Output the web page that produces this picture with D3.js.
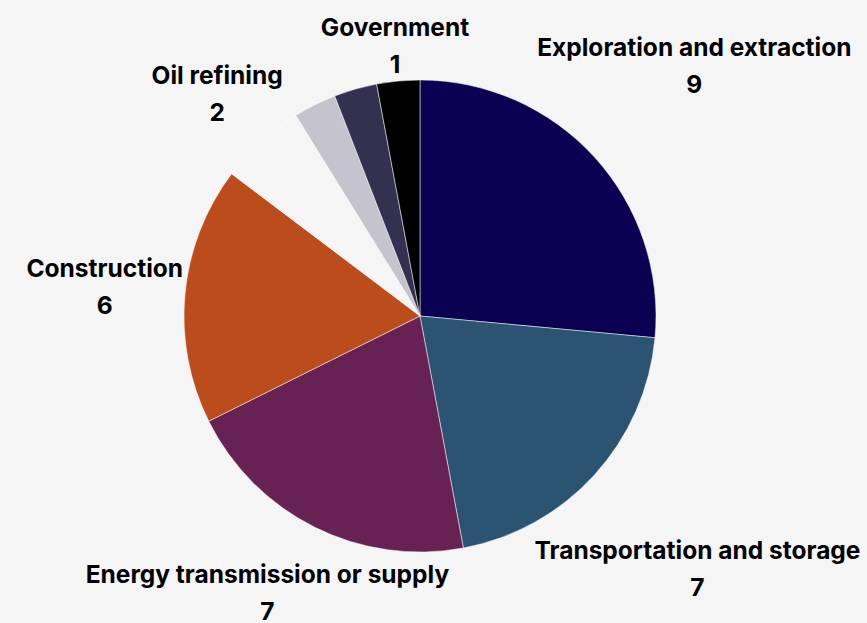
<!DOCTYPE html>
<html>
<head>
<meta charset="utf-8">
<script src="https://cdn.jsdelivr.net/npm/d3@7"></script>
<style>
  html, body { margin: 0; padding: 0; background: #f5f5f5; }
  svg { display: block; }
  text { font-family: Inter, "Noto Sans", sans-serif; font-weight: 700; fill: #000; }
</style>
</head>
<body>
<svg id="chart" width="867" height="623"></svg>
<script>
// Slices, clockwise from twelve o'clock
const categories = [
  "Exploration and extraction",
  "Transportation and storage",
  "Energy transmission or supply",
  "Construction",
  "Oil refining",
  "",
  "",
  "Government"
];
const values = [9, 7, 7, 6, 2, 1, 1, 1];
const colors = ["#0b0052", "#2a5472", "#672153", "#bc4c1c", "#f5f5f5", "#c5c4ce", "#34304f", "#000000"];

const width = 867, height = 623;
const cx = 420, cy = 316, radius = 236;
const labelGap = 236;      // distance from centre to the nearest edge of a label box
const lineStep = 37;       // baseline spacing between name and value lines
const fontSize = 24.5;

const svg = d3.select("#chart");
const g = svg.append("g").attr("transform", `translate(${cx},${cy})`);

const data = categories.map((c, i) => ({ name: c, value: values[i], color: colors[i] }));

const pie = d3.pie().value(d => d.value).sort(null);
const arc = d3.arc().innerRadius(0).outerRadius(radius);
const arcs = pie(data);

g.selectAll("path.slice")
  .data(arcs)
  .join("path")
  .attr("class", "slice")
  .attr("d", arc)
  .attr("fill", d => d.data.color)
  .attr("stroke", "#ffffff")
  .attr("stroke-width", 0.5);

// Two-line labels placed outside the pie along each slice's mid-angle
const labels = g.selectAll("g.label")
  .data(arcs.filter(d => d.data.name !== ""))
  .join("g")
  .attr("class", "label");

labels.append("text")
  .attr("text-anchor", "middle")
  .attr("font-size", fontSize)
  .attr("y", 0)
  .text(d => d.data.name);

labels.append("text")
  .attr("text-anchor", "middle")
  .attr("font-size", fontSize)
  .attr("y", lineStep)
  .text(d => d.data.value);

labels.each(function(d) {
  const grp = d3.select(this);
  const w = grp.select("text").node().getComputedTextLength();
  const h = lineStep + fontSize * 0.8;
  const mid = (d.startAngle + d.endAngle) / 2;
  const ux = Math.sin(mid), uy = -Math.cos(mid);
  const support = Math.abs(ux) * w / 2 + Math.abs(uy) * h / 2;
  let px = ux * (labelGap + support);
  let py = uy * (labelGap + support);
  // keep the name line on the canvas
  py = Math.min(py, height - cy - 30);
  // box centre -> first baseline
  const top = py - h / 2 + fontSize * 0.75;
  grp.attr("transform", `translate(${px},${top})`);
});
</script>
</body>
</html>
